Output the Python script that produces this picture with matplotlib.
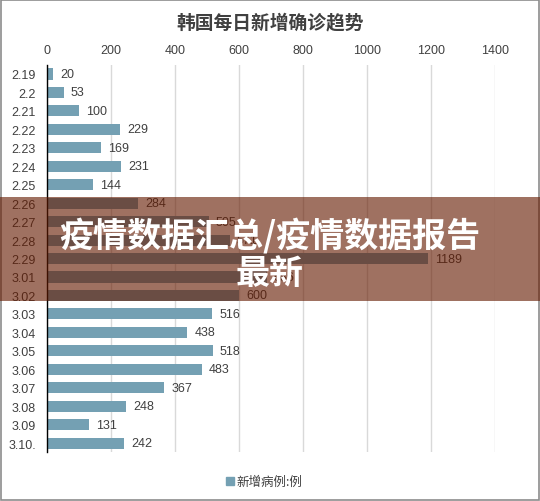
import matplotlib.pyplot as plt
from matplotlib.patches import Rectangle

plt.rcParams['font.family'] = ['Noto Sans CJK SC', 'DejaVu Sans']

dates = ["2.19", "2.2", "2.21", "2.22", "2.23", "2.24", "2.25", "2.26", "2.27", "2.28",
         "2.29", "3.01", "3.02", "3.03", "3.04", "3.05", "3.06", "3.07", "3.08", "3.09", "3.10."]
new_cases = [20, 53, 100, 229, 169, 231, 144, 284, 505, 571,
             1189, 686, 600, 516, 438, 518, 483, 367, 248, 131, 242]
x_ticks = [0, 200, 400, 600, 800, 1000, 1200, 1400]

bar_color = "#74a0b3"
text_color = "#404040"

fig = plt.figure(figsize=(5.4, 5.02), dpi=100)
ax = fig.add_axes([0.087, 0.097, 0.830, 0.772])

y = list(range(len(dates)))
ax.barh(y, new_cases, height=0.6, color=bar_color, zorder=2)
for yi, v in zip(y, new_cases):
    ax.text(v + 22, yi, str(v), va="center", ha="left", fontsize=9,
            color=text_color, family="Liberation Sans")

ax.set_ylim(len(dates) - 0.5, -0.5)
ax.set_xlim(0, 1400)
ax.set_xticks(x_ticks)
ax.set_yticks(y)
ax.set_yticklabels(dates)
ax.xaxis.tick_top()
ax.tick_params(axis="both", length=0, labelsize=9, labelcolor=text_color)
ax.tick_params(axis="x", pad=6)
ax.tick_params(axis="y", pad=8)
for lab in ax.get_xticklabels() + ax.get_yticklabels():
    lab.set_family("Liberation Sans")
ax.grid(axis="x", color="#d9d9d9", linewidth=1, zorder=0)
for s in ["top", "right", "bottom"]:
    ax.spines[s].set_visible(False)
ax.spines["left"].set_color("black")
ax.spines["left"].set_linewidth(1)
ax.spines["left"].set_zorder(3)

fig.text(0.5, 0.955, "韩国每日新增确诊趋势", ha="center", va="center",
         fontsize=13.5, fontweight="bold", color="#404040")

# legend
fig.patches.append(Rectangle((0.419, 0.031), 0.014, 0.016, transform=fig.transFigure,
                             color=bar_color, figure=fig))
fig.text(0.437, 0.040, "新增病例:例", ha="left", va="center", fontsize=9, color=text_color)

# overlay banner
fig.patches.append(Rectangle((0, 0.398), 1, 0.207, transform=fig.transFigure,
                             facecolor="#651a00", alpha=0.62, edgecolor="none",
                             figure=fig, zorder=5))
fig.text(0.5, 0.530, "疫情数据汇总/疫情数据报告", ha="center", va="center",
         fontsize=24.5, fontweight="heavy", color="white", zorder=6)
fig.text(0.5, 0.455, "最新", ha="center", va="center",
         fontsize=24.5, fontweight="heavy", color="white", zorder=6)

# outer border
fig.patches.append(Rectangle((0.001, 0.001), 0.997, 0.997, transform=fig.transFigure,
                             fill=False, edgecolor="#8c8c8c", linewidth=1.2, figure=fig))

fig.savefig("out.png", dpi=100)
